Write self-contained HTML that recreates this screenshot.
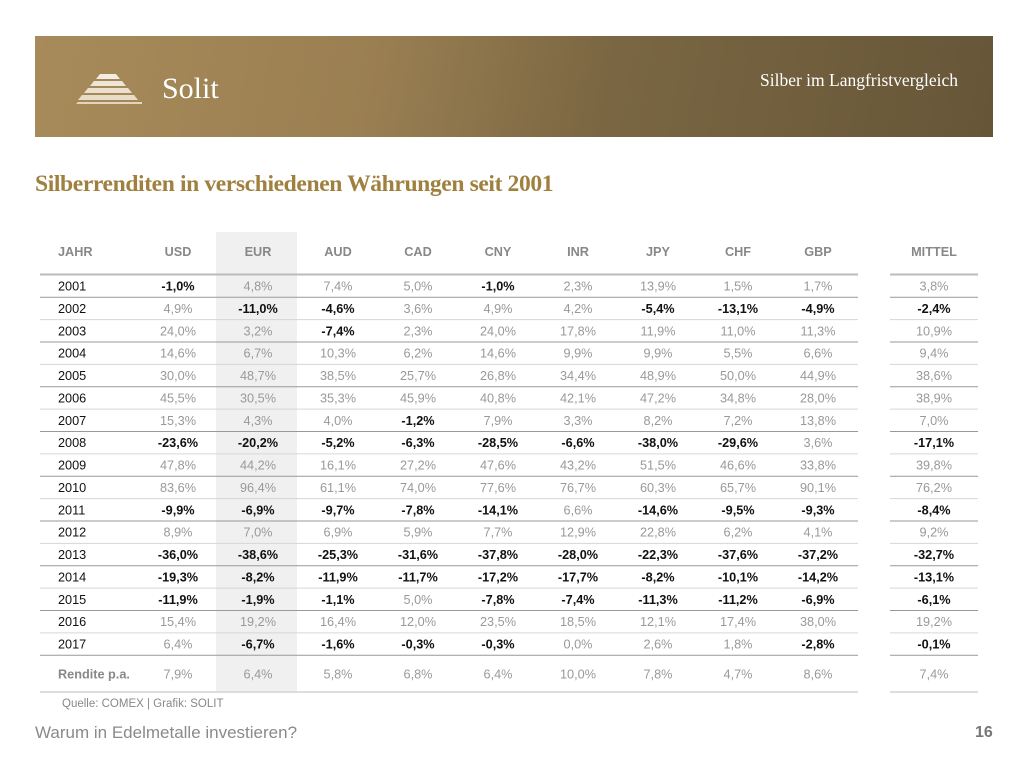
<!DOCTYPE html>
<html><head><meta charset="utf-8">
<style>
body{margin:0;width:1024px;height:768px;background:#fff;position:relative;overflow:hidden;font-family:"Liberation Sans",sans-serif}
#banner{position:absolute;left:35px;top:36px;width:958px;height:101px;background:linear-gradient(100deg,#a88b5a 0%,#9a7f52 35%,#7a6642 60%,#665638 100%)}
.t{position:absolute;white-space:nowrap}
.serif{font-family:"Liberation Serif",serif}
</style></head><body>
<div id="banner"></div>
<svg class="t" style="left:76px;top:72px" width="68" height="34">
<polygon points="24,2 40,2 44,7 20,7" fill="#f4ece0"/>
<polygon points="18,9 46,9 50,14 14,14" fill="#efe5d5"/>
<polygon points="12,16 52,16 56,21 8,21" fill="#ebe0cd"/>
<polygon points="6,23 58,23 62,28 2,28" fill="#e8dcc6"/>
<polygon points="2,30 66,30 66,32 0,32" fill="#e2d5bd"/>
</svg>
<div class="t serif" style="left:162px;top:72px;font-size:30px;color:#fff">Solit</div>
<div class="t serif" style="left:760px;top:70px;font-size:17.5px;color:#fff">Silber im Langfristvergleich</div>
<div class="t serif" style="left:35px;top:171px;font-size:23.6px;color:#a0803f;font-weight:bold;letter-spacing:-0.4px">Silberrenditen in verschiedenen Währungen seit 2001</div>
<svg id="tbl" class="t" style="left:0;top:0" width="1024" height="768"></svg>
<div class="t" style="left:62px;top:698px;font-size:11.5px;color:#888">Quelle: COMEX | Grafik: SOLIT</div>
<div class="t" style="left:35px;top:723px;font-size:17px;color:#8a8a8a">Warum in Edelmetalle investieren?</div>
<div class="t" style="left:975px;top:724px;font-size:16px;color:#777;font-weight:bold">16</div>
<script>
const currencies=["USD","EUR","AUD","CAD","CNY","INR","JPY","CHF","GBP"];
const years=["2001","2002","2003","2004","2005","2006","2007","2008","2009","2010","2011","2012","2013","2014","2015","2016","2017"];
const USD=[-1.0,4.9,24.0,14.6,30.0,45.5,15.3,-23.6,47.8,83.6,-9.9,8.9,-36.0,-19.3,-11.9,15.4,6.4];
const EUR=[4.8,-11.0,3.2,6.7,48.7,30.5,4.3,-20.2,44.2,96.4,-6.9,7.0,-38.6,-8.2,-1.9,19.2,-6.7];
const AUD=[7.4,-4.6,-7.4,10.3,38.5,35.3,4.0,-5.2,16.1,61.1,-9.7,6.9,-25.3,-11.9,-1.1,16.4,-1.6];
const CAD=[5.0,3.6,2.3,6.2,25.7,45.9,-1.2,-6.3,27.2,74.0,-7.8,5.9,-31.6,-11.7,5.0,12.0,-0.3];
const CNY=[-1.0,4.9,24.0,14.6,26.8,40.8,7.9,-28.5,47.6,77.6,-14.1,7.7,-37.8,-17.2,-7.8,23.5,-0.3];
const INR=[2.3,4.2,17.8,9.9,34.4,42.1,3.3,-6.6,43.2,76.7,6.6,12.9,-28.0,-17.7,-7.4,18.5,0.0];
const JPY=[13.9,-5.4,11.9,9.9,48.9,47.2,8.2,-38.0,51.5,60.3,-14.6,22.8,-22.3,-8.2,-11.3,12.1,2.6];
const CHF=[1.5,-13.1,11.0,5.5,50.0,34.8,7.2,-29.6,46.6,65.7,-9.5,6.2,-37.6,-10.1,-11.2,17.4,1.8];
const GBP=[1.7,-4.9,11.3,6.6,44.9,28.0,13.8,3.6,33.8,90.1,-9.3,4.1,-37.2,-14.2,-6.9,38.0,-2.8];
const MITTEL=[3.8,-2.4,10.9,9.4,38.6,38.9,7.0,-17.1,39.8,76.2,-8.4,9.2,-32.7,-13.1,-6.1,19.2,-0.1];
const rendite=[7.9,6.4,5.8,6.8,6.4,10.0,7.8,4.7,8.6];
const renditeMittel=7.4;
const series=[USD,EUR,AUD,CAD,CNY,INR,JPY,CHF,GBP];

const svg=document.getElementById('tbl');const NS='http://www.w3.org/2000/svg';
function colX(i){return 178+i*80;}
function rowY(i){return 286+i*22.375;}
function fmt(v){return v.toFixed(1).replace('.',',')+'%';}
function mk(tag,at){const e=document.createElementNS(NS,tag);for(const k in at)e.setAttribute(k,at[k]);svg.appendChild(e);return e;}
function txt(x,y,s,bold,col,anchor,size){const e=mk('text',{x:x,y:y,'font-size':size||12.7,'font-family':'Liberation Sans, sans-serif','text-anchor':anchor||'middle','font-weight':bold?'bold':'normal',fill:col});e.textContent=s;return e;}
const band=mk('rect',{x:216,y:232,width:81,height:460,fill:'#f0f0f0'});


const hy=256;
let h=txt(58,hy,'JAHR',true,'#888','start');


currencies.forEach((c,i)=>{const e=txt(colX(i),hy,c,true,'#888');

});
h=txt(934,hy,'MITTEL',true,'#888');


mk('line',{x1:40,x2:858,y1:274.5,y2:274.5,stroke:'#bbb','stroke-width':2});
mk('line',{x1:890,x2:978,y1:274.5,y2:274.5,stroke:'#bbb','stroke-width':2});
years.forEach((yr,r)=>{
  const y=rowY(r)+4.5;
  const ly=rowY(r)+11.2;
  const dark=(r%2===0);
  mk('line',{x1:40,x2:858,y1:ly,y2:ly,stroke:dark?'#999':'#d6d6d6','stroke-width':1});
  mk('line',{x1:890,x2:978,y1:ly,y2:ly,stroke:dark?'#999':'#d6d6d6','stroke-width':1});
  const yt=txt(58,y,yr,false,'#111','start');
  
  
  series.forEach((s,i)=>{const v=s[r];const neg=v<0;
    const e=txt(colX(i),y,fmt(v),neg,neg?'#111':'#999');
    
    });
  const m=MITTEL[r];const me=txt(934,y,fmt(m),m<0,m<0?'#111':'#999');
  
  
});
const ry=678.5;
h=txt(58,ry,'Rendite p.a.',true,'#888','start');


rendite.forEach((v,i)=>{const e=txt(colX(i),ry,fmt(v),false,'#999');

});
h=txt(934,ry,fmt(renditeMittel),false,'#999');


mk('line',{x1:40,x2:858,y1:692,y2:692,stroke:'#ddd','stroke-width':2});
mk('line',{x1:890,x2:978,y1:692,y2:692,stroke:'#ddd','stroke-width':2});
</script>
</body></html>
